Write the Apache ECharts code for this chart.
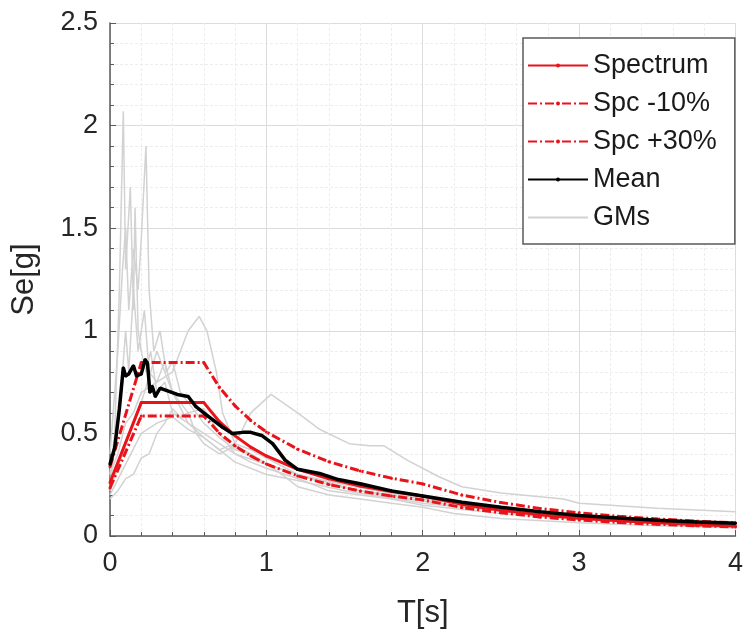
<!DOCTYPE html>
<html><head><meta charset="utf-8">
<script src="https://cdn.jsdelivr.net/npm/echarts@6/dist/echarts.min.js"></script>
<style>html,body{margin:0;padding:0;background:#fff}#c{width:746px;height:636px}</style>
</head><body><div id="c"></div>
<script>
// Design spectrum periods and values
const specT      = [0, 0.2, 0.6, 0.7, 0.8, 0.9, 1.0, 1.2, 1.4, 1.6, 1.8, 2.0, 2.25, 2.5, 2.75, 3.0, 3.25, 3.5, 3.75, 4.0];
const spectrum   = [0.26, 0.65, 0.65, 0.557, 0.488, 0.433, 0.39, 0.325, 0.279, 0.244, 0.217, 0.195, 0.154, 0.125, 0.103, 0.087, 0.074, 0.064, 0.055, 0.049];
const spcMinus10 = [0.234, 0.585, 0.585, 0.501, 0.439, 0.39, 0.351, 0.293, 0.251, 0.219, 0.195, 0.176, 0.139, 0.113, 0.093, 0.078, 0.066, 0.057, 0.05, 0.044];
const spcPlus30  = [0.338, 0.845, 0.845, 0.724, 0.634, 0.563, 0.507, 0.423, 0.362, 0.317, 0.282, 0.254, 0.2, 0.163, 0.134, 0.113, 0.096, 0.083, 0.072, 0.064];

// Mean of ground motions
const meanT = [0, 0.03, 0.06, 0.085, 0.1, 0.12, 0.15, 0.17, 0.2, 0.225, 0.24, 0.255, 0.27, 0.29, 0.32, 0.36, 0.43, 0.5, 0.55, 0.6, 0.66, 0.72, 0.78, 0.85, 0.9, 0.97, 1.04, 1.12, 1.2, 1.34, 1.46, 1.6, 1.8, 2.0, 2.25, 2.5, 2.75, 3.0, 3.25, 3.5, 3.75, 4.0];
const meanV = [0.35, 0.43, 0.62, 0.82, 0.78, 0.79, 0.83, 0.78, 0.79, 0.86, 0.84, 0.70, 0.73, 0.68, 0.72, 0.71, 0.69, 0.68, 0.63, 0.60, 0.565, 0.53, 0.50, 0.505, 0.505, 0.49, 0.45, 0.37, 0.325, 0.305, 0.275, 0.255, 0.22, 0.195, 0.165, 0.14, 0.118, 0.10, 0.088, 0.077, 0.068, 0.062];

// Individual ground motions (GMs)
const gm1T = [0, 0.03, 0.06, 0.085, 0.1, 0.13, 0.15, 0.16, 0.18, 0.2, 0.23, 0.26, 0.3, 0.35, 0.4, 0.5, 0.6, 0.7, 0.8, 0.9, 1.0, 1.2, 1.4, 1.6, 1.8, 2.0, 2.5, 3.0, 3.5, 4.0];
const gm1V = [0.3, 0.5, 1.2, 2.07, 1.3, 1.7, 1.1, 1.6, 1.0, 0.9, 0.8, 0.9, 0.7, 0.75, 0.6, 0.55, 0.5, 0.45, 0.4, 0.36, 0.33, 0.28, 0.22, 0.2, 0.18, 0.15, 0.11, 0.08, 0.065, 0.055];
const gm2T = [0, 0.05, 0.08, 0.1, 0.12, 0.15, 0.18, 0.2, 0.23, 0.25, 0.28, 0.32, 0.36, 0.4, 0.45, 0.5, 0.6, 0.7, 0.8, 0.9, 1.0, 1.2, 1.4, 1.6, 1.8, 2.0, 2.5, 3.0, 3.5, 4.0];
const gm2V = [0.4, 0.9, 1.3, 1.5, 1.1, 1.4, 1.2, 1.45, 1.9, 1.2, 0.9, 1.0, 0.8, 0.85, 0.7, 0.65, 0.55, 0.48, 0.42, 0.4, 0.35, 0.3, 0.26, 0.22, 0.2, 0.17, 0.12, 0.09, 0.07, 0.06];
const gm3T = [0, 0.05, 0.1, 0.15, 0.2, 0.3, 0.4, 0.45, 0.5, 0.57, 0.62, 0.68, 0.72, 0.8, 0.9, 1.0, 1.2, 1.4, 1.6, 1.8, 2.0, 2.5, 3.0, 3.5, 4.0];
const gm3V = [0.3, 0.4, 0.55, 0.6, 0.7, 0.75, 0.8, 0.9, 1.0, 1.07, 1.0, 0.8, 0.6, 0.45, 0.42, 0.38, 0.3, 0.25, 0.22, 0.19, 0.17, 0.12, 0.09, 0.07, 0.06];
const gm4T = [0, 0.1, 0.2, 0.3, 0.4, 0.5, 0.6, 0.7, 0.8, 0.9, 1.03, 1.2, 1.34, 1.53, 1.66, 1.75, 1.9, 2.1, 2.25, 2.5, 2.9, 3.0, 3.5, 4.0];
const gm4V = [0.2, 0.35, 0.5, 0.55, 0.58, 0.52, 0.48, 0.42, 0.45, 0.6, 0.69, 0.6, 0.52, 0.45, 0.44, 0.44, 0.37, 0.29, 0.24, 0.21, 0.18, 0.16, 0.135, 0.118];
const gm5T = [0, 0.05, 0.1, 0.15, 0.2, 0.25, 0.3, 0.35, 0.4, 0.45, 0.5, 0.55, 0.6, 0.7, 0.8, 0.9, 1.0, 1.1, 1.2, 1.4, 1.6, 1.8, 2.0, 2.2, 2.5, 3.0, 3.5, 4.0];
const gm5V = [0.18, 0.22, 0.28, 0.3, 0.38, 0.4, 0.5, 0.55, 0.62, 0.58, 0.6, 0.5, 0.45, 0.4, 0.44, 0.4, 0.35, 0.3, 0.24, 0.2, 0.18, 0.16, 0.14, 0.11, 0.085, 0.065, 0.05, 0.04];
const gm6T = [0, 0.1, 0.2, 0.3, 0.35, 0.4, 0.5, 0.6, 0.7, 0.8, 1.0, 1.2, 1.5, 2.0, 2.5, 3.0, 3.5, 4.0];
const gm6V = [0.22, 0.45, 0.65, 0.9, 0.8, 0.7, 0.6, 0.62, 0.5, 0.4, 0.35, 0.3, 0.25, 0.18, 0.13, 0.1, 0.08, 0.07];
const gm7T = [0, 0.06, 0.1, 0.12, 0.15, 0.18, 0.22, 0.25, 0.3, 0.35, 0.4, 0.5, 0.6, 0.7, 0.8, 1.0, 1.2, 1.5, 2.0, 2.5, 3.0, 3.5, 4.0];
const gm7V = [0.25, 0.6, 1.0, 0.8, 1.2, 0.9, 1.1, 0.8, 0.75, 0.85, 0.7, 0.55, 0.48, 0.42, 0.36, 0.3, 0.27, 0.22, 0.16, 0.12, 0.09, 0.075, 0.065];

const xTicks = [0, 1, 2, 3, 4];
const yTicks = [0, 0.5, 1, 1.5, 2, 2.5];

const zip = (t, v) => t.map((x, i) => [x, v[i]]);
const gms = [[gm1T, gm1V], [gm2T, gm2V], [gm3T, gm3V], [gm4T, gm4V], [gm5T, gm5V], [gm6T, gm6V], [gm7T, gm7V]];

const FONT = 'Liberation Sans';
const dashDot = [9, 3, 2, 3];

const series = [];
gms.forEach(([t, v]) => series.push({
  name: 'GMs', type: 'line', data: zip(t, v), showSymbol: false, symbol: 'none',
  lineStyle: { color: '#d2d2d2', width: 1.5 }, itemStyle: { color: '#d2d2d2' }, z: 1, silent: true
}));
series.push({
  name: 'Spc -10%', type: 'line', data: zip(specT, spcMinus10), symbol: 'circle', symbolSize: 3,
  lineStyle: { color: '#e8141a', width: 3, type: dashDot }, itemStyle: { color: '#e8141a' }, z: 3
});
series.push({
  name: 'Spc +30%', type: 'line', data: zip(specT, spcPlus30), symbol: 'circle', symbolSize: 3,
  lineStyle: { color: '#e8141a', width: 3, type: dashDot }, itemStyle: { color: '#e8141a' }, z: 3
});
series.push({
  name: 'Spectrum', type: 'line', data: zip(specT, spectrum), symbol: 'circle', symbolSize: 3,
  lineStyle: { color: '#e8141a', width: 3 }, itemStyle: { color: '#e8141a' }, z: 3
});
series.push({
  name: 'Mean', type: 'line', data: zip(meanT, meanV), symbol: 'circle', symbolSize: 3,
  lineStyle: { color: '#000', width: 3.5 }, itemStyle: { color: '#000' }, z: 4
});

const axisCommon = {
  axisLine: { show: true, lineStyle: { color: '#5a5a5a', width: 1.5 } },
  axisTick: { show: true, inside: true, length: 6, lineStyle: { color: '#5a5a5a' } },
  minorTick: { show: true, splitNumber: 5, length: 4, lineStyle: { color: '#5a5a5a' } },
  splitLine: { show: true, lineStyle: { color: '#dcdcdc', width: 1 } },
  minorSplitLine: { show: true, lineStyle: { color: '#ededed', width: 1, type: [3, 2] } },
  axisLabel: { fontFamily: FONT, fontSize: 27, color: '#262626' },
  nameTextStyle: { fontFamily: FONT, fontSize: 31, color: '#262626' },
  nameLocation: 'middle'
};

const chart = echarts.init(document.getElementById('c'), null, { renderer: 'canvas' });
chart.setOption({
  animation: false,
  backgroundColor: '#fff',
  grid: { left: 110, top: 23, right: 7, bottom: 100, containLabel: false },
  xAxis: Object.assign({}, axisCommon, {
    type: 'value', min: xTicks[0], max: xTicks[xTicks.length - 1], interval: 1,
    name: 'T[s]', nameGap: 62,
    axisLabel: Object.assign({}, axisCommon.axisLabel, { margin: 14 })
  }),
  yAxis: Object.assign({}, axisCommon, {
    type: 'value', min: yTicks[0], max: yTicks[yTicks.length - 1], interval: 0.5,
    name: 'Se[g]', nameGap: 70,
    axisLabel: Object.assign({}, axisCommon.axisLabel, { margin: 12 })
  }),
  legend: {
    show: true, orient: 'vertical', left: 523, top: 38,
    data: ['Spectrum', 'Spc -10%', 'Spc +30%', 'Mean',
      { name: 'GMs', itemStyle: { color: 'rgba(0,0,0,0)', borderWidth: 0 } }],
    itemWidth: 60, itemHeight: 5, itemGap: 11,
    padding: [14, 18, 13, 4],
    borderColor: '#5a5a5a', borderWidth: 1.5, backgroundColor: '#fff',
    textStyle: { fontFamily: FONT, fontSize: 27, color: '#1a1a1a' },
    selectedMode: false
  },
  series
});
</script></body></html>
